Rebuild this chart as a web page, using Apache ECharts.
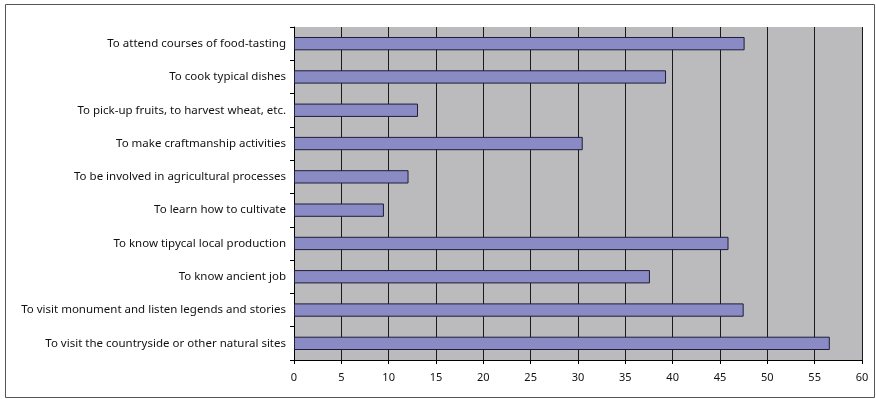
<!DOCTYPE html>
<html>
<head>
<meta charset="utf-8">
<script src="https://cdn.jsdelivr.net/npm/echarts@6/dist/echarts.min.js"></script>
<style>
  html, body { margin: 0; padding: 0; background: #fff; }
  #chart { width: 876px; height: 399px; }
</style>
</head>
<body>
<div id="chart"></div>
<script>
// categories listed bottom -> top (category axis grows upward)
const categories = [
  "To visit the countryside or other natural sites",
  "To visit monument and listen legends and stories",
  "To know ancient job",
  "To know tipycal local production",
  "To learn how to cultivate",
  "To be involved in agricultural processes",
  "To make craftmanship activities",
  "To pick-up fruits, to harvest wheat, etc.",
  "To cook typical dishes",
  "To attend courses of food-tasting"
];
const values = [56.6, 47.5, 37.6, 45.9, 9.5, 12.1, 30.5, 13.1, 39.3, 47.6];

const xMin = 0;
const xMax = 60;
const xStep = 5;

const myChart = echarts.init(document.getElementById("chart"));

const option = {
  animation: false,
  textStyle: { fontFamily: "'Noto Sans', sans-serif" },
  graphic: [
    {
      type: "rect",
      shape: { x: 5.5, y: 4.5, width: 869, height: 393 },
      style: { fill: "none", stroke: "#555", lineWidth: 1 },
      z: -1
    }
  ],
  grid: {
    left: 294,
    right: 14,
    top: 27,
    bottom: 39,
    show: true,
    backgroundColor: "#bbbbbe",
    borderWidth: 0
  },
  xAxis: {
    type: "value",
    min: xMin,
    max: xMax,
    interval: xStep,
    axisLine: { show: true, lineStyle: { color: "#000", width: 1 } },
    axisTick: { show: true, length: 4, lineStyle: { color: "#000" } },
    axisLabel: { color: "#111", fontSize: 11, margin: 12 },
    splitLine: {
      show: true,
      showMinLine: false,
      lineStyle: { color: "#1a1a1a", width: 1 }
    }
  },
  yAxis: {
    type: "category",
    data: categories,
    axisLine: { show: true, lineStyle: { color: "#000", width: 1 } },
    axisTick: { show: true, length: 4, lineStyle: { color: "#000" } },
    axisLabel: { color: "#111", fontSize: 11.5, margin: 8 },
    splitLine: { show: false }
  },
  series: [
    {
      type: "bar",
      data: values,
      barCategoryGap: "60%",
      itemStyle: {
        color: "#8a8ac4",
        borderColor: "#1e1e38",
        borderWidth: 1
      }
    }
  ]
};

myChart.setOption(option);
</script>
</body>
</html>
